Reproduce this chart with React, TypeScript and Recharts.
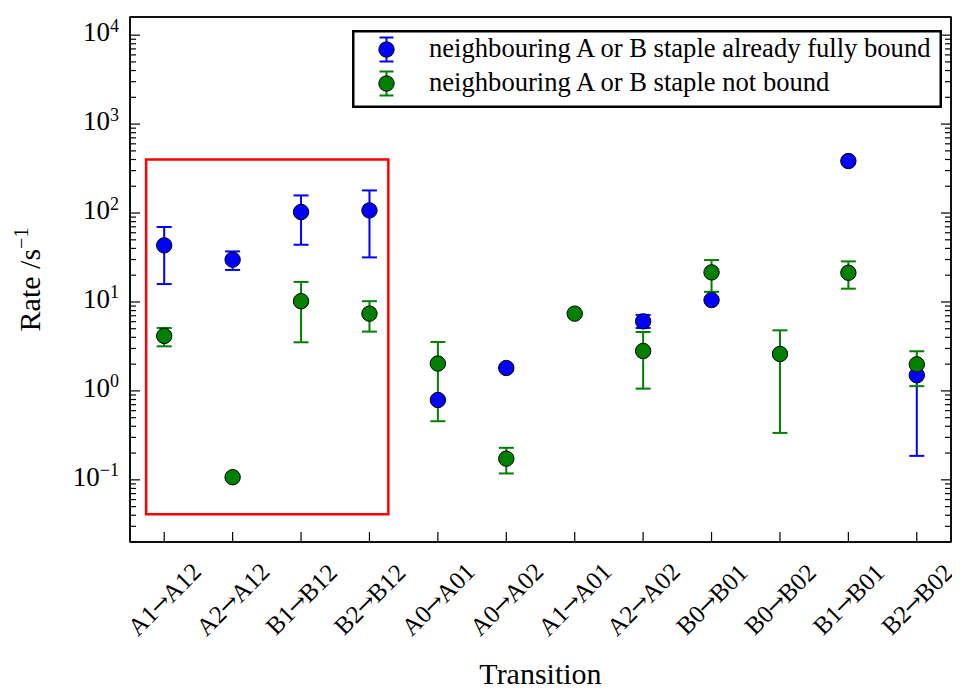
import React from "react";
import {
	ComposedChart,
	Scatter,
	XAxis,
	YAxis,
	ErrorBar,
	ReferenceArea,
	Legend,
} from "recharts";

const FONT = '"Liberation Serif", "DejaVu Serif", serif';
const BLUE = "#0000ff";
const GREEN = "#008000";

const transitions = [
	"A1→A12",
	"A2→A12",
	"B1→B12",
	"B2→B12",
	"A0→A01",
	"A0→A02",
	"A1→A01",
	"A2→A02",
	"B0→B01",
	"B0→B02",
	"B1→B01",
	"B2→B02",
];

const seriesNames = [
	"neighbouring A or B staple already fully bound",
	"neighbouring A or B staple not bound",
];

// staple already fully bound (blue)
const boundRate = [43.3, 29.9, 102.6, 107, 0.79, 1.81, null, 6.05, 10.5, null, 384, 1.5];
const boundLow = [15.9, 22.9, 44, 31.7, 0.79, 1.81, null, 5.1, 10.5, null, 384, 0.186];
const boundHigh = [69.6, 37, 157.7, 179.5, 0.79, 1.81, null, 7.15, 10.5, null, 384, 1.9];

// staple not bound (green)
const freeRate = [4.15, 0.107, 10.2, 7.39, 2.03, 0.173, 7.39, 2.81, 21.5, 2.6, 21.3, 1.99];
const freeLow = [3.17, 0.107, 3.52, 4.64, 0.456, 0.118, 7.39, 1.06, 13, 0.337, 14.1, 1.13];
const freeHigh = [5.1, 0.107, 16.8, 10.2, 3.55, 0.229, 7.39, 4.6, 29.6, 4.8, 28.6, 2.79];

const xDomain = [-0.5, 11.5];
const yDomain = [0.02, 16000];
const majorTicks = [0.1, 1, 10, 100, 1000, 10000];
const minorTicks = [
	0.02, 0.03, 0.04, 0.05, 0.06, 0.07, 0.08, 0.09,
	0.2, 0.3, 0.4, 0.5, 0.6, 0.7, 0.8, 0.9,
	2, 3, 4, 5, 6, 7, 8, 9,
	20, 30, 40, 50, 60, 70, 80, 90,
	200, 300, 400, 500, 600, 700, 800, 900,
	2000, 3000, 4000, 5000, 6000, 7000, 8000, 9000,
];
const yTicks = [...majorTicks, ...minorTicks].sort((a, b) => a - b);
const xTicks = transitions.map((_, i) => i);

// highlighted group (first four transitions)
const boxX = [-0.264, 3.276];
const boxY = [0.041, 400];

const toPoints = (rate: (number | null)[], low: (number | null)[], high: (number | null)[]) =>
	rate.flatMap((v, i) =>
		v == null ? [] : [{ x: i, y: v, err: [v - (low[i] as number), (high[i] as number) - v] }]
	);

const boundPts = toPoints(boundRate, boundLow, boundHigh);
const freePts = toPoints(freeRate, freeLow, freeHigh);

const isMajor = (v: number) => {
	const l = Math.log10(v);
	return Math.abs(l - Math.round(l)) < 1e-6;
};

const LeftTick = (props: any) => {
	const { x, y, payload } = props;
	const v = payload.value;
	const major = isMajor(v);
	const exp = Math.round(Math.log10(v));
	return (
		<g>
			<line x1={x} x2={x + (major ? 10 : 6)} y1={y} y2={y} stroke="#000" strokeWidth={1.2} />
			{major && (
				<text x={x - 11} y={y + 6} textAnchor="end" fontFamily={FONT} fontSize={27} fill="#000">
					10
					<tspan fontSize={18} dy={-9.5}>
						{exp < 0 ? "\u2212" + -exp : String(exp)}
					</tspan>
				</text>
			)}
		</g>
	);
};

const RightTick = (props: any) => {
	const { x, y, payload } = props;
	const len = isMajor(payload.value) ? 10 : 6;
	return <line x1={x} x2={x - len} y1={y} y2={y} stroke="#000" strokeWidth={1.2} />;
};

const BottomTick = (props: any) => {
	const { x, y, payload } = props;
	const cy = y + 57;
	const [from, to] = transitions[payload.value].split("→");
	return (
		<g>
			<line x1={x} x2={x} y1={y} y2={y - 10} stroke="#000" strokeWidth={1.2} />
			<text
				x={x}
				y={cy}
				transform={`rotate(-45 ${x} ${cy})`}
				textAnchor="middle"
				dominantBaseline="central"
				fontFamily={FONT}
				fontSize={25}
				fill="#000"
			>
				{from}
				<tspan fontFamily='"DejaVu Serif", serif' fontSize={23} dx={-1}>
					→
				</tspan>
				<tspan dx={-1}>{to}</tspan>
			</text>
		</g>
	);
};

const TopTick = (props: any) => {
	const { x, y } = props;
	return <line x1={x} x2={x} y1={y} y2={y + 10} stroke="#000" strokeWidth={1.2} />;
};

const YLabel = (props: any) => {
	const vb = props.viewBox;
	const cx = vb.x + 32;
	const cy = vb.y + vb.height / 2;
	return (
		<text
			x={cx}
			y={cy}
			transform={`rotate(-90 ${cx} ${cy})`}
			textAnchor="middle"
			fontFamily={FONT}
			fontSize={30}
			fill="#000"
		>
			Rate /s
			<tspan fontSize={20} dy={-12}>
				{"\u22121"}
			</tspan>
		</text>
	);
};

const dot = (fill: string) => (p: any) =>
	<circle cx={p.cx} cy={p.cy} r={7.7} fill={fill} stroke="#000" strokeWidth={1} />;

const LegendBox = () => {
	const colors = [BLUE, GREEN];
	return (
		<svg width={590} height={78}>
			<rect x={1.25} y={1.25} width={587.5} height={75.5} fill="#fff" stroke="#000" strokeWidth={2.5} />
			{seriesNames.map((name, i) => {
				const cy = 19.5 + i * 34;
				return (
					<g key={name}>
						<line x1={34.5} x2={34.5} y1={cy - 12} y2={cy + 12} stroke={colors[i]} strokeWidth={2} />
						<line x1={27.5} x2={41.5} y1={cy - 12} y2={cy - 12} stroke={colors[i]} strokeWidth={2} />
						<line x1={27.5} x2={41.5} y1={cy + 12} y2={cy + 12} stroke={colors[i]} strokeWidth={2} />
						<circle cx={34.5} cy={cy} r={7.7} fill={colors[i]} stroke="#000" strokeWidth={1} />
						<text x={77} y={cy + 7.5} fontFamily={FONT} fontSize={26.6} fill="#000">
							{name}
						</text>
					</g>
				);
			})}
		</svg>
	);
};

const axisLine = { stroke: "#000", strokeWidth: 1.5 };

export default function App() {
	return (
		<ComposedChart width={944} height={681} margin={{ top: 0, right: 0, bottom: 0, left: 0 }}>
			<XAxis
				xAxisId="x"
				type="number"
				dataKey="x"
				domain={xDomain}
				allowDataOverflow
				ticks={xTicks}
				interval={0}
				tick={BottomTick}
				tickLine={false}
				tickSize={0}
				tickMargin={0}
				height={147}
				axisLine={axisLine}
				label={{
					value: "Transition",
					position: "insideBottom",
					offset: 5,
					fontSize: 30,
					fontFamily: FONT,
					fill: "#000",
				}}
			/>
			<XAxis
				xAxisId="top"
				orientation="top"
				type="number"
				domain={xDomain}
				allowDataOverflow
				ticks={xTicks}
				interval={0}
				tick={TopTick}
				tickLine={false}
				tickSize={0}
				tickMargin={0}
				height={9}
				axisLine={axisLine}
			/>
			<YAxis
				yAxisId="y"
				type="number"
				dataKey="y"
				scale="log"
				domain={yDomain}
				allowDataOverflow
				ticks={yTicks}
				interval={0}
				tick={LeftTick}
				tickLine={false}
				tickSize={0}
				tickMargin={0}
				width={122}
				axisLine={axisLine}
				label={YLabel}
			/>
			<YAxis
				yAxisId="r"
				orientation="right"
				type="number"
				scale="log"
				domain={yDomain}
				allowDataOverflow
				ticks={yTicks}
				interval={0}
				tick={RightTick}
				tickLine={false}
				tickSize={0}
				tickMargin={0}
				width={1}
				axisLine={axisLine}
			/>
			<ReferenceArea
				xAxisId="x"
				yAxisId="y"
				x1={xDomain[0]}
				x2={xDomain[1]}
				y1={yDomain[0]}
				y2={yDomain[1]}
				fill="none"
				stroke="#000"
				strokeWidth={1.5}
				ifOverflow="visible"
			/>
			<ReferenceArea
				xAxisId="x"
				yAxisId="y"
				x1={boxX[0]}
				x2={boxX[1]}
				y1={boxY[0]}
				y2={boxY[1]}
				fill="none"
				stroke="#ff0000"
				strokeWidth={2.5}
				ifOverflow="visible"
			/>
			<Scatter
				name={seriesNames[0]}
				data={boundPts}
				xAxisId="x"
				yAxisId="y"
				dataKey="y"
				shape={dot(BLUE)}
				isAnimationActive={false}
			>
				<ErrorBar dataKey="err" direction="y" width={7.5} stroke={BLUE} strokeWidth={2} isAnimationActive={false} />
			</Scatter>
			<Scatter
				name={seriesNames[1]}
				data={freePts}
				xAxisId="x"
				yAxisId="y"
				dataKey="y"
				shape={dot(GREEN)}
				isAnimationActive={false}
			>
				<ErrorBar dataKey="err" direction="y" width={7.5} stroke={GREEN} strokeWidth={2} isAnimationActive={false} />
			</Scatter>
			<Legend
				layout="vertical"
				align="center"
				verticalAlign="middle"
				content={LegendBox}
				wrapperStyle={{ left: 344, top: 22, width: 590, height: 78 }}
			/>
		</ComposedChart>
	);
}
